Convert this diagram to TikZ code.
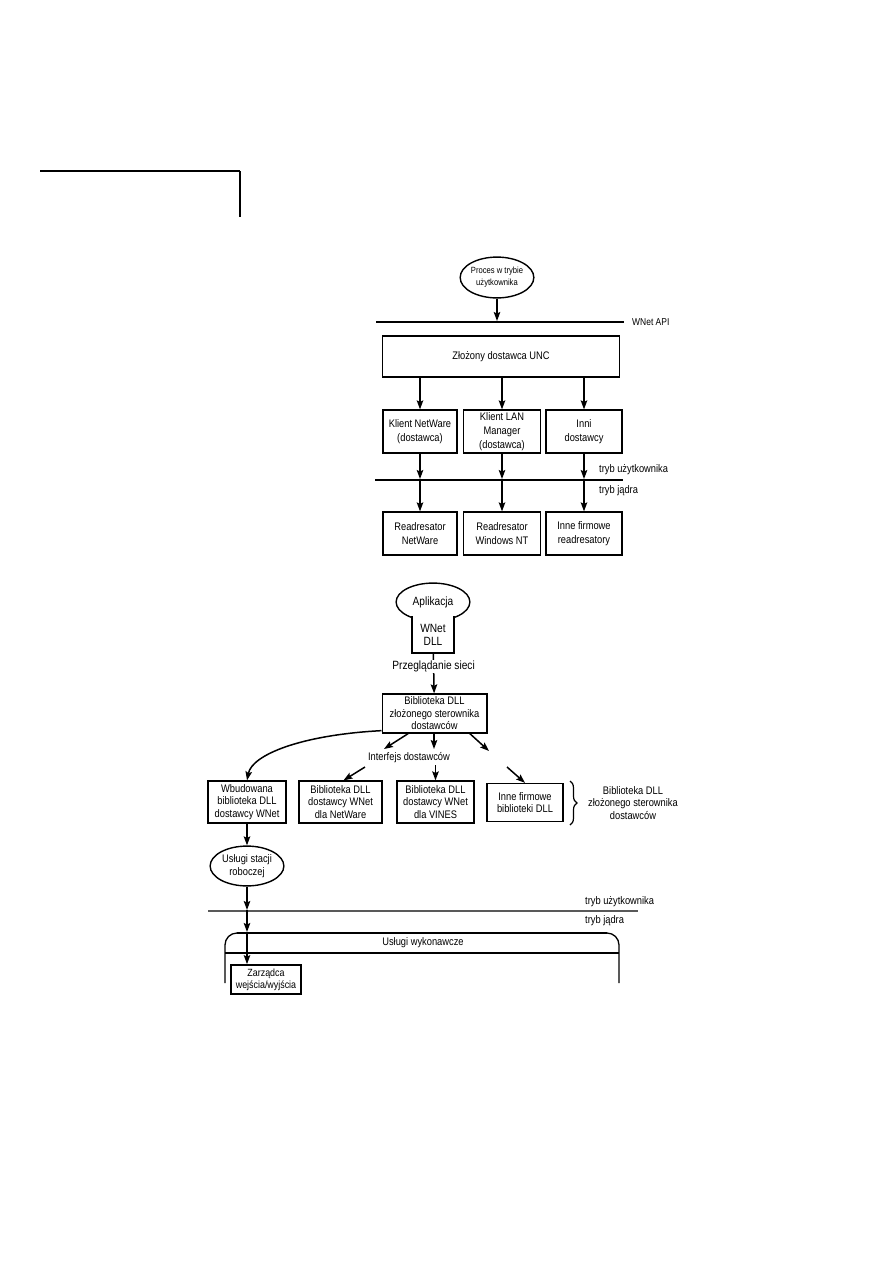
\documentclass[tikz,border=0pt]{standalone}
\usepackage{fontspec}
\setmainfont{Liberation Sans}[FakeStretch=0.85]
\usetikzlibrary{arrows.meta,shapes.geometric,decorations.pathreplacing}

\begin{document}
\begin{tikzpicture}[x=1bp,y=-1bp,
	box/.style={draw,line width=1.4pt,fill=white,inner sep=0pt,align=center,font=\fontsize{11}{14}\selectfont},
	tight/.style={font=\fontsize{11}{12.5}\selectfont},
	oval/.style={draw,ellipse,line width=1.4pt,fill=white,inner sep=0pt,align=center},
	lbl/.style={inner sep=0pt,align=center,font=\fontsize{11}{12.5}\selectfont},
	arr/.style={-{Stealth[length=9pt,width=6.5pt,inset=1.5pt]},line width=1.5pt}]
	\useasboundingbox (0,0) rectangle (893,1263);
	% page corner mark
	\draw[line width=1.2pt] (40,171) -- (240,171);
	\draw[line width=2.4pt] (240,171) -- (240,217);

	% upper diagram
	\node[oval,minimum width=68,minimum height=41,font=\fontsize{9}{12}\selectfont] (proc) at (497,277.5) {Proces w trybie\\użytkownika};
	\draw[line width=1.6pt] (376,322) -- (624,322);
	\coordinate (api) at (497,321);
	\draw[arr] (proc) -- (api);
	\node[lbl,anchor=west,font=\fontsize{10}{12}\selectfont] (apil) at (632,322) {WNet API};
	\node[box,minimum width=238,minimum height=41] (unc) at (501,356.5) {Złożony dostawca UNC};

	\node[box,minimum width=74,minimum height=43] (knw) at (420,431.5) {Klient NetWare\\(dostawca)};
	\node[box,minimum width=77,minimum height=43] (klm) at (502,431.5) {Klient LAN\\Manager\\(dostawca)};
	\node[box,minimum width=76,minimum height=43] (kin) at (584,431.5) {Inni\\dostawcy};
	\draw[arr] (unc.south -| knw) -- (knw);
	\draw[arr] (unc.south -| klm) -- (klm);
	\draw[arr] (unc.south -| kin) -- (kin);

	\draw[line width=2.4pt] (375,480) -- (623,480);
	\node[lbl,anchor=west] (tu1) at (599,470) {tryb użytkownika};
	\node[lbl,anchor=west] (tj1) at (599,491) {tryb jądra};
	\coordinate (k1) at (420,479);
	\coordinate (k2) at (502,479);
	\coordinate (k3) at (584,479);

	\node[box,minimum width=74,minimum height=43] (rnw) at (420,533.5) {Readresator\\NetWare};
	\node[box,minimum width=77,minimum height=43] (rnt) at (502,533.5) {Readresator\\Windows NT};
	\node[box,minimum width=76,minimum height=43] (rin) at (584,533.5) {Inne firmowe\\readresatory};
	\draw[arr] (knw) -- (k1);
	\draw[arr] (klm) -- (k2);
	\draw[arr] (kin) -- (k3);
	\draw[arr] (k1) -- (rnw);
	\draw[arr] (k2) -- (rnt);
	\draw[arr] (k3) -- (rin);

	% lower diagram
	\node[oval,minimum width=74,minimum height=38,font=\fontsize{12}{14}\selectfont] (app) at (433,602) {Aplikacja};
	\node[fill=white,minimum width=42,minimum height=36.5,inner sep=0pt,align=center,font=\fontsize{12}{13}\selectfont] (dll) at (433,634.75) {WNet\\DLL};
	\draw[line width=1.4pt] (dll.north west) -- (dll.south west) -- (dll.south east) -- (dll.north east);
	\node[box,tight,minimum width=105,minimum height=39] (dsb) at (434.5,713.5) {Biblioteka DLL\\złożonego sterownika\\dostawców};
	\draw[arr] (dll) -- node[lbl,fill=white,inner sep=1pt,pos=0.34,font=\fontsize{12}{13}\selectfont] (prz) {Przeglądanie sieci} (dsb);

	\node[box,tight,minimum width=78,minimum height=42] (wbud) at (247,802) {Wbudowana\\biblioteka DLL\\dostawcy WNet};
	\node[box,tight,minimum width=83,minimum height=42] (bdn) at (340.5,802) {Biblioteka DLL\\dostawcy WNet\\dla NetWare};
	\node[box,tight,minimum width=77,minimum height=42] (bdv) at (435.5,802) {Biblioteka DLL\\dostawcy WNet\\dla VINES};
	\node[box,tight,minimum width=76,minimum height=38] (inn) at (525,802.5) {Inne firmowe\\biblioteki DLL};

	\node[lbl] (ifd) at (409,758) {Interfejs dostawców};
	\coordinate (fa1) at (384,749);
	\coordinate (fa2) at (434,749);
	\coordinate (fa3) at (489,751);
	\coordinate (fb1) at (365,767);
	\coordinate (fb2) at (435.5,765);
	\coordinate (fb3) at (507,767);
	\draw[arr] ([xshift=-26.5pt]dsb.south) -- (fa1);
	\draw[arr] (dsb.south -| fa2) -- (fa2);
	\draw[arr] ([xshift=35.5pt]dsb.south) -- (fa3);
	\draw[arr] (fb1) -- ([xshift=3pt]bdn.north);
	\draw[arr] (fb2) -- (bdv.north);
	\draw[arr] (fb3) -- (inn.north);
	\draw[arr] ([yshift=3pt]dsb.south west) .. controls (300,735) and (252,755) .. (wbud.north);

	\draw[decorate,decoration={brace,amplitude=7pt},line width=1.2pt] (570,781) -- (570,825);
	\node[lbl] (bzl) at (633,803) {Biblioteka DLL\\złożonego sterownika\\dostawców};

	\node[oval,minimum width=74,minimum height=40,font=\fontsize{11}{13}\selectfont] (uss) at (247,866) {Usługi stacji\\roboczej};
	\draw[arr] (wbud) -- (uss);

	\draw[line width=2pt,black!65] (208,911) -- (638,911);
	\node[lbl,anchor=west] (tu2) at (585,902) {tryb użytkownika};
	\node[lbl,anchor=west] (tj2) at (585,921) {tryb jądra};
	\coordinate (m2) at (247,910);
	\coordinate (ex) at (247,932);
	\draw[arr] (uss) -- (m2);
	\draw[arr] (m2) -- (ex);

	\draw[line width=1.3pt,rounded corners=12pt] (225,983) -- (225,933) -- (619,933) -- (619,983);
	\draw[line width=2.2pt] (237,933) -- (607,933);
	\draw[line width=1.3pt] (225,953) -- (619,953);
	\node[lbl] (usw) at (423,943) {Usługi wykonawcze};
	\node[box,line width=1.8pt,minimum width=70,minimum height=29,font=\fontsize{10.5}{12}\selectfont] (zio) at (266,979.5) {Zarządca\\wejścia/wyjścia};
	\draw[arr] (ex) -- (zio.north -| ex);
\end{tikzpicture}
\end{document}
